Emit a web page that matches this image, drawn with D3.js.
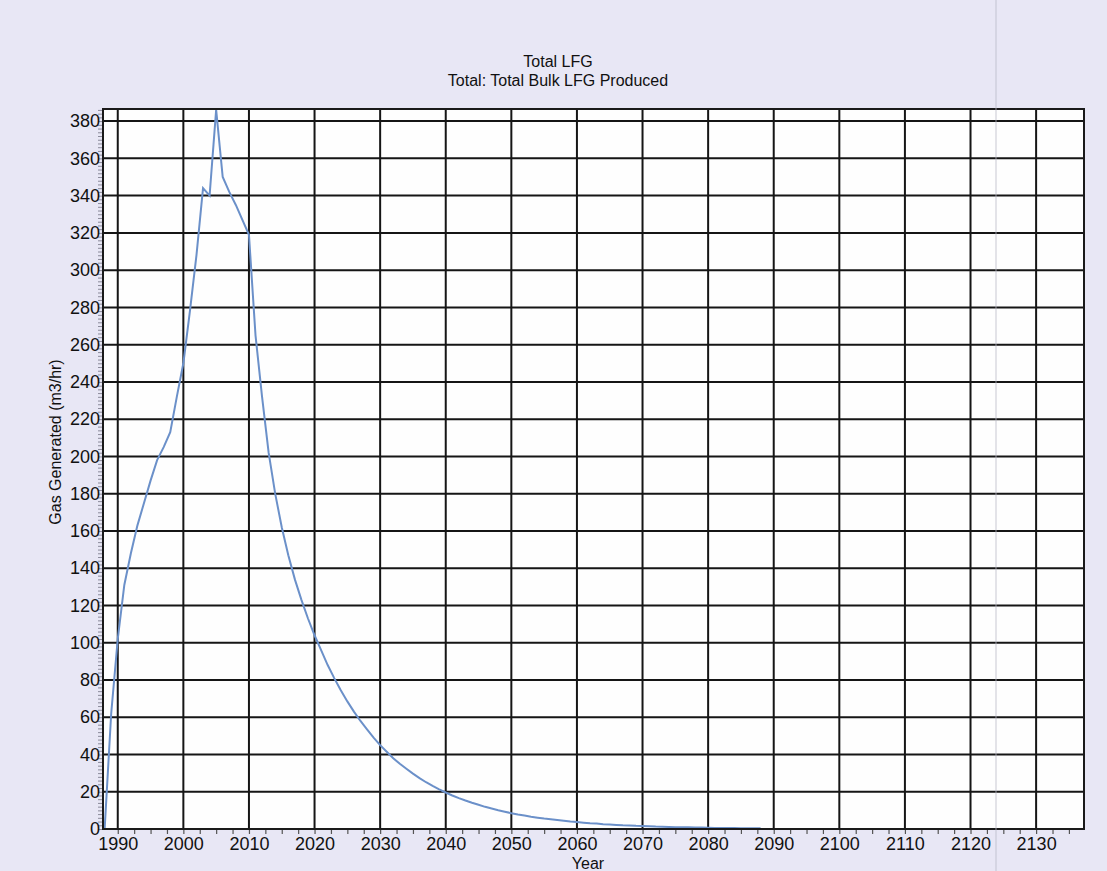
<!DOCTYPE html>
<meta charset="utf-8">
<script src="https://d3js.org/d3.v7.min.js"></script>
<style>
  body { margin: 0; background: #e8e7f5; }
  text { font-family: "Liberation Sans", Arial, sans-serif; fill: #111; }
</style>
<svg id="chart" width="1107" height="871"></svg>
<script>
// data (m3/hr per year)
var years = d3.range(1988, 2089);
var gasValues = [
  0, 62, 102, 131, 148, 163, 175, 187, 198, 205,
  213, 232, 250, 278, 308, 344, 340, 386, 350, 342,
  335, 327, 319, 265, 232, 202, 180, 162, 147, 134,
  123, 113, 104, 96, 88, 81, 74.5, 68.5, 63, 58,
  53.5, 49, 45, 41.5, 38, 35, 32.3, 29.7, 27.3, 25.1,
  23.1, 21.3, 19.6, 18, 16.6, 15.3, 14.1, 13, 11.9, 11,
  10.1, 9.3, 8.5, 7.8, 7.2, 6.6, 6.1, 5.6, 5.2, 4.8,
  4.4, 4.0, 3.7, 3.4, 3.1, 2.9, 2.6, 2.4, 2.2, 2.0,
  1.9, 1.7, 1.6, 1.5, 1.3, 1.2, 1.1, 1.0, 0.95, 0.9,
  0.8, 0.75, 0.7, 0.6, 0.55, 0.5, 0.47, 0.43, 0.4, 0.37,
  0.34
];
var yearTicks = [1990, 2000, 2010, 2020, 2030, 2040, 2050, 2060, 2070, 2080, 2090, 2100, 2110, 2120, 2130];
var valueTicks = [0, 20, 40, 60, 80, 100, 120, 140, 160, 180, 200, 220, 240, 260, 280, 300, 320, 340, 360, 380];
var titleLines = ["Total LFG", "Total: Total Bulk LFG Produced"];

var svg = d3.select("#chart");
var plotL = 103, plotR = 1084, plotT = 109, plotB = 829;

var x = d3.scaleLinear().domain([1987.75, 2137.3]).range([plotL, plotR]);
var y = d3.scaleLinear().domain([0, 386.5]).range([plotB, plotT]);

// plot background
svg.append("rect")
  .attr("x", plotL).attr("y", plotT)
  .attr("width", plotR - plotL).attr("height", plotB - plotT)
  .attr("fill", "#fefefe");

// grid
svg.append("g").selectAll("line")
  .data(yearTicks)
  .enter().append("line")
    .attr("x1", d => x(d)).attr("x2", d => x(d))
    .attr("y1", plotT).attr("y2", plotB)
    .style("stroke", "#151515").style("stroke-width", 2);

svg.append("g").selectAll("line")
  .data(valueTicks.filter(d => d > 0))
  .enter().append("line")
    .attr("x1", plotL).attr("x2", plotR)
    .attr("y1", d => y(d)).attr("y2", d => y(d))
    .style("stroke", "#151515").style("stroke-width", 2);

// minor ticks
var xMinor = svg.append("g")
  .attr("transform", "translate(0," + plotB + ")")
  .call(d3.axisBottom(x).tickValues(d3.range(1990, 2137.3, 2.5)).tickSize(5).tickFormat(""));
xMinor.select(".domain").remove();
xMinor.selectAll("line").style("stroke", "#555").style("stroke-width", 1.2);

var yMinor = svg.append("g")
  .attr("transform", "translate(" + plotL + ",0)")
  .call(d3.axisLeft(y).tickValues(d3.range(0, 387, 2)).tickSize(5).tickFormat(""));
yMinor.select(".domain").remove();
yMinor.selectAll("line").style("stroke", "#8a8a9a").style("stroke-width", 1);

// tick labels
var xAxis = svg.append("g")
  .attr("transform", "translate(0," + plotB + ")")
  .call(d3.axisBottom(x).tickValues(yearTicks).tickSize(0).tickPadding(8).tickFormat(d3.format("d")));
xAxis.select(".domain").remove();
xAxis.selectAll("text").style("font-size", "18px");

var yAxis = svg.append("g")
  .attr("transform", "translate(" + plotL + ",0)")
  .call(d3.axisLeft(y).tickValues(valueTicks).tickSize(0).tickPadding(3).tickFormat(d3.format("d")));
yAxis.select(".domain").remove();
yAxis.selectAll("text").style("font-size", "18px");

// the curve
var line = d3.line()
  .x((d, i) => x(years[i]))
  .y(d => y(d));

svg.append("path")
  .datum(gasValues)
  .attr("d", line)
  .style("fill", "none")
  .style("stroke", "#6b90c9")
  .style("stroke-width", 2);

// frame
svg.append("rect")
  .attr("x", plotL).attr("y", plotT)
  .attr("width", plotR - plotL).attr("height", plotB - plotT)
  .style("fill", "none").style("stroke", "#1a1a1a").style("stroke-width", 2);

// titles
svg.selectAll(".title")
  .data(titleLines)
  .enter().append("text")
    .attr("class", "title")
    .attr("x", 558)
    .attr("y", (d, i) => 67 + i * 19)
    .attr("text-anchor", "middle")
    .style("font-size", "16px")
    .text(d => d);

svg.append("text")
  .attr("transform", "translate(61,442) rotate(-90)")
  .attr("text-anchor", "middle")
  .style("font-size", "16px")
  .text("Gas Generated (m3/hr)");

svg.append("text")
  .attr("x", 588).attr("y", 869)
  .attr("text-anchor", "middle")
  .style("font-size", "16px")
  .text("Year");

// faint scan fold line
svg.append("line")
  .attr("x1", 996).attr("x2", 996)
  .attr("y1", 0).attr("y2", 871)
  .style("stroke", "#b9b8c6").style("stroke-width", 1.5).style("opacity", 0.5);
</script>
